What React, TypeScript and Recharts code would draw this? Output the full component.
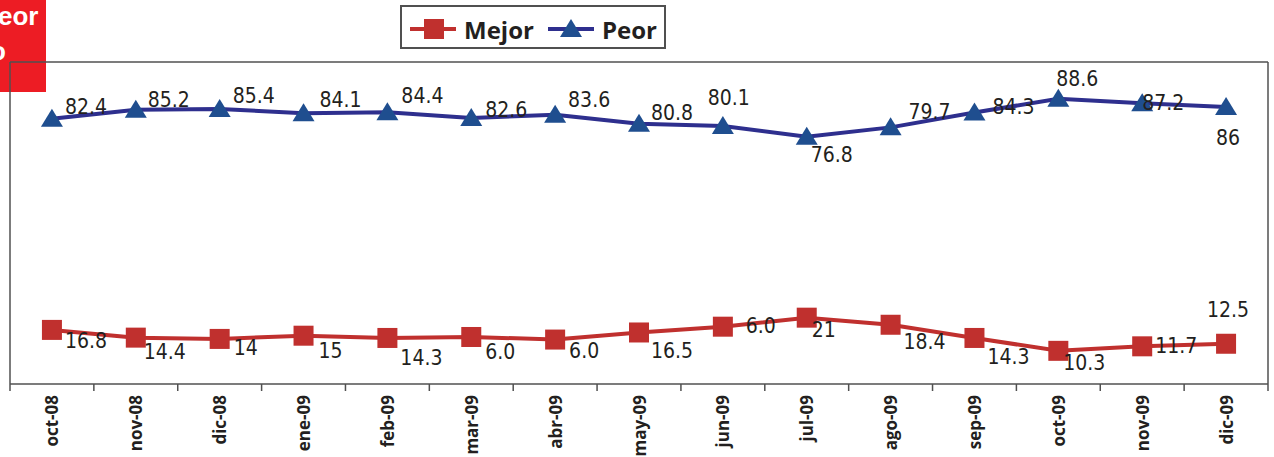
import React from 'react';
import { LineChart, Line, XAxis, YAxis, Legend, ReferenceLine } from 'recharts';

const categories = ['oct-08', 'nov-08', 'dic-08', 'ene-09', 'feb-09', 'mar-09', 'abr-09', 'may-09', 'jun-09', 'jul-09', 'ago-09', 'sep-09', 'oct-09', 'nov-09', 'dic-09'];
const mejorValues = [16.8, 14.4, 14, 15, 14.3, 14.6, 13.8, 16, 17.8, 20.6, 18.4, 14.3, 10.3, 11.7, 12.5];
const peorValues = [82.4, 85.2, 85.4, 84.1, 84.4, 82.6, 83.6, 80.8, 80.1, 76.8, 79.7, 84.3, 88.6, 87.2, 86];
const mejorLabels = ['16.8', '14.4', '14', '15', '14.3', '6.0', '6.0', '16.5', '6.0', '21', '18.4', '14.3', '10.3', '11.7', '12.5'];
const peorLabels = ['82.4', '85.2', '85.4', '84.1', '84.4', '82.6', '83.6', '80.8', '80.1', '76.8', '79.7', '84.3', '88.6', '87.2', '86'];

// label placement (style only)
const mejorLabelOffsets: [number, number][] = [[34, 11], [29, 14], [26, 9], [27, 15], [34, 20], [29, 15], [29, 11], [33, 19], [38, -1], [17, 12], [34, 17], [34, 19], [26, 12], [34, 0], [2, -34]];
const peorLabelOffsets: [number, number][] = [[34, -12], [33, -10], [34, -13], [37, -13], [35, -16], [35, -8], [34, -15], [33, -11], [6, -28], [25, 18], [39, -15], [39, -6], [19, -20], [21, 0], [2, 31]];

const data = categories.map((c, i) => ({ cat: c, mejor: mejorValues[i], peor: peorValues[i] }));

const W = 1274;
const H = 457;
const X_AXIS_H = 73;
const MARGIN = { top: 62, right: 6, bottom: 0, left: 10 };
const HALF_BAND = (W - MARGIN.left - MARGIN.right) / categories.length / 2;

const RED = '#C0302E';
const NAVY = '#2E2F8E';
const BLUE = '#1F4E8F';
const AXIS = '#505050';
const LABEL_FONT = '"Liberation Sans Narrow", "DejaVu Sans Condensed", sans-serif';
const BOLD_FONT = '"Open Sans", sans-serif';

const SquareDot = (props: any) => {
  const { cx, cy, index } = props;
  if (cx == null || cy == null) return null;
  return <rect key={`sq-${index}`} x={cx - 10} y={cy - 10} width={20} height={20} fill={RED} />;
};

const TriangleDot = (props: any) => {
  const { cx, cy, index } = props;
  if (cx == null || cy == null) return null;
  return (
    <polygon
      key={`tr-${index}`}
      points={`${cx},${cy - 10} ${cx - 11},${cy + 8} ${cx + 11},${cy + 8}`}
      fill={BLUE}
    />
  );
};

const makeLabel = (texts: string[], offsets: [number, number][]) => (props: any) => {
  const { x, y, index } = props;
  if (x == null || y == null) return null;
  const [dx, dy] = offsets[index] || [0, 0];
  return (
    <text
      key={`lb-${index}`}
      x={x + dx}
      y={y + dy}
      textAnchor="middle"
      dominantBaseline="central"
      fontFamily={LABEL_FONT}
      fontSize={21}
      fill="#231F20"
    >
      {texts[index]}
    </text>
  );
};

const XTick = (props: any) => {
  const { x, y, payload, index } = props;
  const last = index === categories.length - 1;
  const top = y;
  return (
    <g>
      <line x1={x - HALF_BAND} y1={top} x2={x - HALF_BAND} y2={top + 7} stroke={AXIS} strokeWidth={1.5} />
      {last && <line x1={x + HALF_BAND} y1={top} x2={x + HALF_BAND} y2={top + 7} stroke={AXIS} strokeWidth={1.5} />}
      <text
        x={x}
        y={top + 11}
        transform={`rotate(-90, ${x}, ${top + 11})`}
        textAnchor="end"
        dominantBaseline="central"
        fontFamily={BOLD_FONT}
        fontWeight={700}
        fontSize={17}
        fill="#231F20"
      >
        {payload.value}
      </text>
    </g>
  );
};

const LegendContent = () => (
  <div
    style={{
      width: 266,
      height: 44,
      border: `2px solid ${AXIS}`,
      boxSizing: 'border-box',
      background: '#fff',
    }}
  >
    <svg width={262} height={40}>
      <line x1={8} y1={22} x2={54} y2={22} stroke={RED} strokeWidth={4} />
      <rect x={22} y={12} width={20} height={20} fill={RED} />
      <text x={62} y={22} dominantBaseline="central" fontFamily={BOLD_FONT} fontWeight={700} fontSize={24} fill="#231F20">Mejor</text>
      <line x1={146} y1={22} x2={192} y2={22} stroke={NAVY} strokeWidth={4} />
      <polygon points={`169,12 158,30 180,30`} fill={BLUE} />
      <text x={200} y={22} dominantBaseline="central" fontFamily={BOLD_FONT} fontWeight={700} fontSize={24} fill="#231F20">Peor</text>
    </svg>
  </div>
);

const frame = { stroke: AXIS, strokeWidth: 1.5 };

export default function App() {
  return (
    <div style={{ position: 'absolute', left: 0, top: 0, width: W, height: H, background: '#fff', overflow: 'hidden' }}>
      <div
        style={{
          position: 'absolute',
          left: 0,
          top: 0,
          width: 46,
          height: 92,
          background: '#ED1C24',
          overflow: 'hidden',
          color: '#fff',
          fontFamily: '"Liberation Sans", Arial, sans-serif',
          fontWeight: 700,
          fontSize: 26,
          zIndex: 0,
        }}
      >
        <div style={{ position: 'absolute', left: -2, top: 1, lineHeight: '30px' }}>eor</div>
        <div style={{ position: 'absolute', left: -10, top: 36, lineHeight: '30px' }}>o</div>
      </div>
      <div style={{ position: 'absolute', left: 0, top: 0, zIndex: 1 }}>
        <LineChart width={W} height={H} data={data} margin={MARGIN}>
          <XAxis
            dataKey="cat"
            scale="band"
            interval={0}
            height={X_AXIS_H}
            tickLine={false}
            tickSize={0}
            tickMargin={0}
            axisLine={frame}
            tick={<XTick />}
          />
          <YAxis domain={[0, 100]} hide />
          <ReferenceLine y={100} stroke={AXIS} strokeWidth={1.5} />
          <ReferenceLine x={categories[0]} position="start" stroke={AXIS} strokeWidth={1.5} />
          <ReferenceLine x={categories[categories.length - 1]} position="end" stroke={AXIS} strokeWidth={1.5} />
          <Legend
            layout="horizontal"
            verticalAlign="middle"
            align="center"
            content={<LegendContent />}
            wrapperStyle={{ left: 400, top: 5, width: 266, height: 44 }}
          />
          <Line
            dataKey="mejor"
            name="Mejor"
            stroke={RED}
            strokeWidth={4}
            dot={<SquareDot />}
            activeDot={false}
            label={makeLabel(mejorLabels, mejorLabelOffsets)}
            isAnimationActive={false}
          />
          <Line
            dataKey="peor"
            name="Peor"
            stroke={NAVY}
            strokeWidth={4}
            dot={<TriangleDot />}
            activeDot={false}
            label={makeLabel(peorLabels, peorLabelOffsets)}
            isAnimationActive={false}
          />
        </LineChart>
      </div>
    </div>
  );
}
